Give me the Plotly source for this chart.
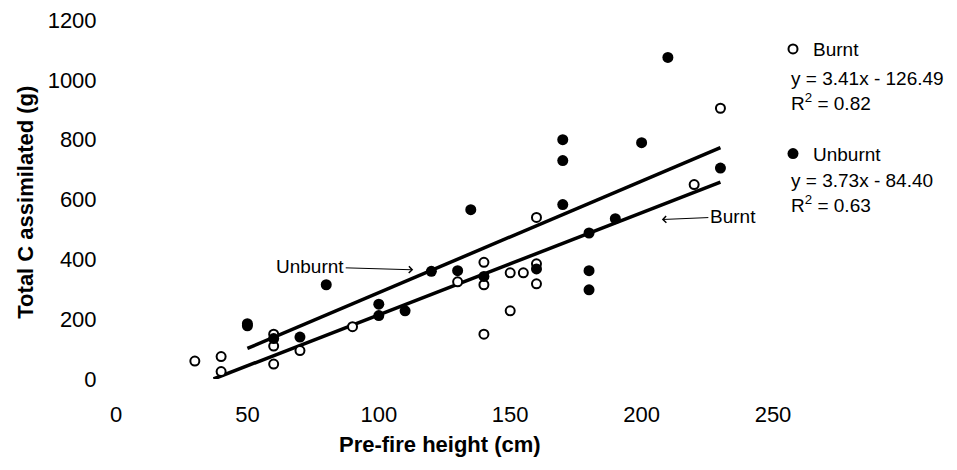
import plotly.graph_objects as go

# ---- data ----
burnt_x = [30, 40, 40, 60, 60, 60, 70, 90, 130, 140, 140, 140, 150, 150, 155, 160, 160, 160, 220, 230]
burnt_y = [60, 75, 25, 150, 110, 50, 95, 175, 325, 390, 315, 150, 355, 228, 355, 385, 318, 540, 650, 905]

unburnt_x = [50, 50, 60, 70, 80, 100, 100, 110, 120, 130, 135, 140, 160, 170, 170, 170, 180, 180, 180, 190, 200, 210, 230]
unburnt_y = [185, 178, 135, 140, 315, 250, 212, 228, 360, 362, 566, 343, 368, 800, 730, 583, 488, 362, 298, 536, 790, 1075, 705]

burnt_slope, burnt_icpt, burnt_r2 = 3.41, -126.49, 0.82
unburnt_slope, unburnt_icpt, unburnt_r2 = 3.73, -84.40, 0.63

x_ticks = [0, 50, 100, 150, 200, 250]
y_ticks = [0, 200, 400, 600, 800, 1000, 1200]

FONT = "Liberation Sans, Arial, sans-serif"

# regression line end points (within data range, clipped at y = 0)
b_x0 = max(min(burnt_x), -burnt_icpt / burnt_slope)
b_x1 = max(burnt_x)
u_x0 = max(min(unburnt_x), -unburnt_icpt / unburnt_slope)
u_x1 = max(unburnt_x)
b_line_x = [b_x0, b_x1]
b_line_y = [burnt_slope * v + burnt_icpt for v in b_line_x]
u_line_x = [u_x0, u_x1]
u_line_y = [unburnt_slope * v + unburnt_icpt for v in u_line_x]

fig = go.Figure()
fig.add_trace(go.Scatter(x=b_line_x, y=b_line_y, mode="lines",
                         line=dict(color="black", width=3.5), showlegend=False, hoverinfo="skip"))
fig.add_trace(go.Scatter(x=u_line_x, y=u_line_y, mode="lines",
                         line=dict(color="black", width=3.5), showlegend=False, hoverinfo="skip"))
fig.add_trace(go.Scatter(x=burnt_x, y=burnt_y, mode="markers", name="Burnt",
                         legendgroup="b",
                         marker=dict(symbol="circle", size=9, color="white",
                                     line=dict(color="black", width=2)),
                         cliponaxis=False))
fig.add_trace(go.Scatter(x=unburnt_x, y=unburnt_y, mode="markers", name="Unburnt",
                         legendgroup="u",
                         marker=dict(symbol="circle", size=11, color="black",
                                     line=dict(color="black", width=0)),
                         cliponaxis=False))

ann = []
eq_lines = [
    (f"y = {burnt_slope:.2f}x - {abs(burnt_icpt):.2f}", 0.8384),
    (f"R<sup>2</sup> = {burnt_r2:.2f}", 0.7716),
    (f"y = {unburnt_slope:.2f}x - {abs(unburnt_icpt):.2f}", 0.5543),
    (f"R<sup>2</sup> = {unburnt_r2:.2f}", 0.4875),
]
for txt, yy in eq_lines:
    ann.append(dict(text=txt, xref="paper", yref="paper", x=1.0243, y=yy,
                    xanchor="left", yanchor="middle", showarrow=False,
                    font=dict(family=FONT, size=19, color="black")))

ann.append(dict(text="Unburnt", x=113.1, y=365, xref="x", yref="y",
                showarrow=True, ax=-103, ay=-3, arrowhead=4, arrowsize=1.3,
                arrowwidth=1, arrowcolor="black",
                font=dict(family=FONT, size=19, color="black")))
ann.append(dict(text="Burnt", x=207.7, y=533, xref="x", yref="y",
                showarrow=True, ax=71, ay=-3, arrowhead=4, arrowsize=1.3,
                arrowwidth=1, arrowcolor="black",
                font=dict(family=FONT, size=19, color="black")))

# axis titles
ann.append(dict(text="<b>Pre-fire height (cm)</b>", xref="paper", yref="paper",
                x=0.4935, y=-0.1838, xanchor="center", yanchor="middle", showarrow=False,
                font=dict(family=FONT, size=22, color="black")))
ann.append(dict(text="<b>Total C assimilated (g)</b>", xref="paper", yref="paper",
                x=-0.139, y=0.493, xanchor="center", yanchor="middle", showarrow=False,
                textangle=-90, font=dict(family=FONT, size=22, color="black")))

fig.update_layout(
    width=957, height=470,
    margin=dict(l=115.5, r=184, t=20, b=91, autoexpand=False),
    paper_bgcolor="white", plot_bgcolor="white",
    font=dict(family=FONT, size=22, color="black"),
    showlegend=True,
    legend=dict(x=1.0, y=0.972, xanchor="left", yanchor="top",
                font=dict(family=FONT, size=19, color="black"),
                bgcolor="rgba(0,0,0,0)", borderwidth=0,
                tracegroupgap=77, itemwidth=30),
    annotations=ann,
    xaxis=dict(range=[0, 250], tickvals=x_ticks, ticktext=[str(v) for v in x_ticks],
               showgrid=False, zeroline=False, showline=False, automargin=False,
               ticks="outside", ticklen=16, tickcolor="rgba(0,0,0,0)",
               tickfont=dict(family=FONT, size=22)),
    yaxis=dict(range=[0, 1200], tickvals=y_ticks, ticktext=[str(v) for v in y_ticks],
               showgrid=False, zeroline=False, showline=False, automargin=False,
               ticks="outside", ticklen=14, tickcolor="rgba(0,0,0,0)",
               tickfont=dict(family=FONT, size=22)),
)

fig.write_html("out.html", config={"displayModeBar": False},
               post_script="document.body.style.margin='0';")
